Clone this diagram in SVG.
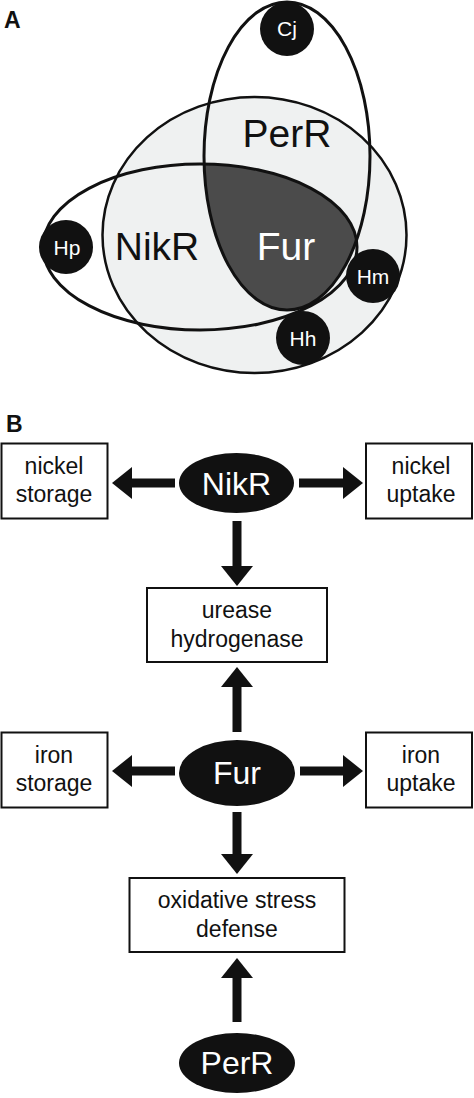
<svg xmlns="http://www.w3.org/2000/svg" width="474" height="1098" viewBox="0 0 474 1098">
<style>
text{font-family:"Liberation Sans",Arial,sans-serif;text-anchor:middle}
.lbl{font-weight:bold;font-size:23px;text-anchor:start;fill:#111}
.big{font-size:39px;fill:#111}
.sp{font-size:21px;fill:#fff}
.dot{fill:#111}
.box{fill:#fff;stroke:#111;stroke-width:2}
.bt{font-size:23px;fill:#111}
.reg{fill:#111}
.rt{font-size:32px;fill:#fff}
.ell{fill:none;stroke:#111;stroke-width:3}
.arr{stroke:#111;stroke-width:9;fill:none;marker-end:url(#head)}
</style>
<defs>
<marker id="head" markerUnits="userSpaceOnUse" viewBox="0 0 20 32" markerWidth="20" markerHeight="32" refX="0" refY="16" orient="auto">
<path d="M0,0 L20,16 L0,32 z" fill="#111"/>
</marker>
<clipPath id="perClip"><ellipse cx="287" cy="156" rx="83" ry="154"/></clipPath>
</defs>
<rect width="474" height="1098" fill="#fff"/>
<text class="lbl" x="4" y="28">A</text>
<g id="venn">
<g id="fur-set"><ellipse cx="254.5" cy="235" rx="152" ry="138" fill="#eff1f1" stroke="#111" stroke-width="2.5"/></g>
<g id="overlap"><ellipse cx="200" cy="247" rx="157" ry="83" fill="#4b4b4b" clip-path="url(#perClip)"/></g>
<g id="perr-set"><ellipse class="ell" cx="287" cy="156" rx="83" ry="154"/></g>
<g id="nikr-set"><ellipse class="ell" cx="200" cy="247" rx="157" ry="83"/></g>
<text class="big" x="287" y="147">PerR</text>
<text class="big" x="157" y="260">NikR</text>
<text class="big" x="286" y="260" fill="#fff" style="fill:#fff">Fur</text>
<g id="cj"><circle class="dot" cx="287" cy="29" r="27"/><text class="sp" x="287" y="36">Cj</text></g>
<g id="hp"><circle class="dot" cx="66" cy="247" r="27"/><text class="sp" x="67" y="255">Hp</text></g>
<g id="hm"><circle class="dot" cx="373" cy="276" r="27"/><text class="sp" x="373" y="284">Hm</text></g>
<g id="hh"><circle class="dot" cx="303" cy="338" r="27"/><text class="sp" x="303" y="346">Hh</text></g>
</g>
<text class="lbl" x="6" y="432">B</text>
<g id="connectors">
<path class="arr" d="M175,483 H132"/>
<path class="arr" d="M299,483 H343"/>
<path class="arr" d="M237,521 V566"/>
<path class="arr" d="M237,732 V687"/>
<path class="arr" d="M175,771 H132"/>
<path class="arr" d="M300,771 H343"/>
<path class="arr" d="M237,812 V854"/>
<path class="arr" d="M237,1022 V978"/>
</g>
<g id="nickel-storage"><rect class="box" x="1.5" y="443.5" width="106" height="75"/><text class="bt" x="54" y="474">nickel</text><text class="bt" x="54" y="502">storage</text></g>
<g id="nikr"><ellipse class="reg" cx="236.5" cy="483" rx="57.5" ry="30"/><text class="rt" x="236.5" y="495">NikR</text></g>
<g id="nickel-uptake"><rect class="box" x="366" y="443.5" width="106" height="75"/><text class="bt" x="421" y="474">nickel</text><text class="bt" x="421" y="502">uptake</text></g>
<g id="urease"><rect class="box" x="147" y="588" width="180" height="74"/><text class="bt" x="237" y="618">urease</text><text class="bt" x="237" y="647">hydrogenase</text></g>
<g id="iron-storage"><rect class="box" x="1.5" y="732.5" width="106" height="75"/><text class="bt" x="54" y="763">iron</text><text class="bt" x="54" y="791">storage</text></g>
<g id="fur"><ellipse class="reg" cx="237" cy="773" rx="58" ry="33"/><text class="rt" x="237" y="784">Fur</text></g>
<g id="iron-uptake"><rect class="box" x="366" y="732.5" width="106" height="75"/><text class="bt" x="421" y="763">iron</text><text class="bt" x="421" y="791">uptake</text></g>
<g id="oxidative"><rect class="box" x="129.5" y="878" width="215" height="74"/><text class="bt" x="237" y="908">oxidative stress</text><text class="bt" x="237" y="937">defense</text></g>
<g id="perr"><ellipse class="reg" cx="237" cy="1063" rx="58" ry="30"/><text class="rt" x="237" y="1074">PerR</text></g>
</svg>
